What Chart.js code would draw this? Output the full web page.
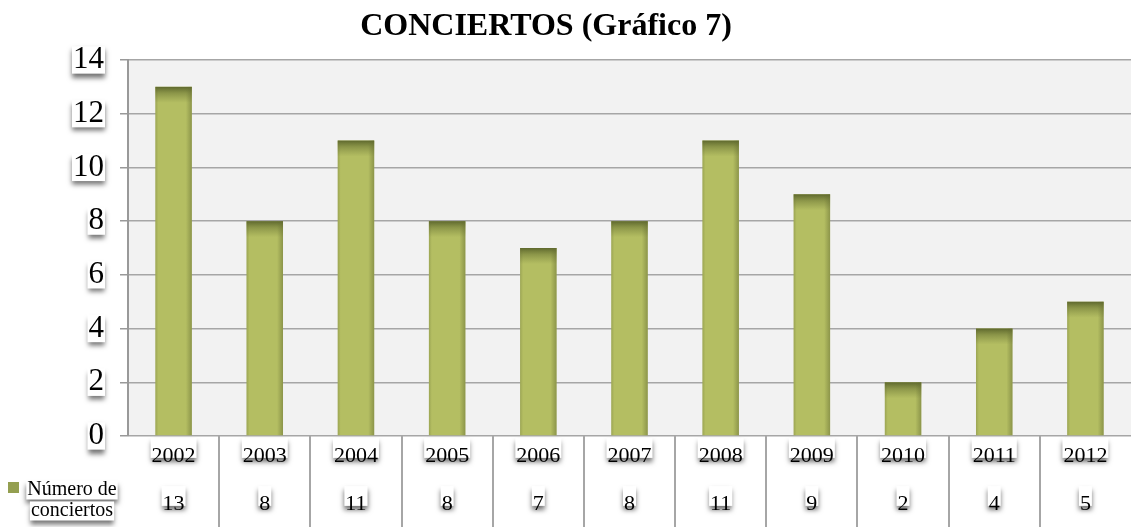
<!DOCTYPE html>
<html>
<head>
<meta charset="utf-8">
<title>Conciertos</title>
<script src="https://cdn.jsdelivr.net/npm/chart.js@4.4.1/dist/chart.umd.min.js"></script>
<style>
  html, body { margin: 0; padding: 0; background: #fff; }
  #wrap { width: 1131px; height: 527px; }
</style>
</head>
<body>
<div id="wrap"><canvas id="conciertosChart"></canvas></div>
<script>
'use strict';

// ── data ──────────────────────────────────────────────
const YEARS      = ['2002', '2003', '2004', '2005', '2006', '2007', '2008', '2009', '2010', '2011', '2012'];
const CONCIERTOS = [13, 8, 11, 8, 7, 8, 11, 9, 2, 4, 5];
const Y_TICKS    = { min: 0, max: 14, step: 2 };
const TITLE      = 'CONCIERTOS (Gráfico 7)';
const SERIES     = ['Número de', 'conciertos'];

// ── look ──────────────────────────────────────────────
const SERIF   = "'Liberation Serif', 'Times New Roman', serif";
const BAR     = '#b4be62';
const GRID    = '#a6a6a6';
const PLOT_BG = '#f2f2f2';
const X_FONT  = 22, X_LINE = 24, X_PAD = 0;
const Y_FONT  = 31, Y_TICK_LEN = 8, Y_PAD = 16;

// white label box with a soft drop shadow underneath
function shadowBox(ctx, cx, cy, w, h) {
    ctx.save();
    ctx.shadowColor = 'rgba(0,0,0,0.55)';
    ctx.shadowBlur = 5;
    ctx.shadowOffsetX = 0;
    ctx.shadowOffsetY = 4;
    ctx.fillStyle = '#fff';
    ctx.fillRect(cx - w / 2, cy - h / 2, w, h);
    ctx.restore();
}

const decor = {
    id: 'decor',
    beforeDraw(chart) {
        const { ctx, chartArea: a, scales: { x, y } } = chart;
        ctx.save();
        ctx.fillStyle = PLOT_BG;
        ctx.fillRect(a.left, a.top, a.right - a.left, a.bottom - a.top);

        // boxes behind y tick labels
        ctx.font = Y_FONT + 'px ' + SERIF;
        const yRight = a.left - Y_TICK_LEN - Y_PAD;
        y.ticks.forEach((t, i) => {
            const w = ctx.measureText(String(t.label)).width + 2;
            shadowBox(ctx, yRight - w / 2 + 1, y.getPixelForTick(i), w, Y_FONT * 0.88);
        });

        // boxes behind the data table texts
        ctx.font = X_FONT + 'px ' + SERIF;
        const row1 = x.top + X_PAD + X_LINE / 2;
        const row3 = row1 + 2 * X_LINE;
        YEARS.forEach((yr, i) => {
            const px = x.getPixelForTick(i);
            shadowBox(ctx, px, row1, ctx.measureText(yr).width + 2, X_FONT * 0.9);
            shadowBox(ctx, px, row3, ctx.measureText(String(CONCIERTOS[i])).width + 2, X_FONT * 0.9);
        });
        ctx.restore();
    },
    afterDatasetsDraw(chart) {
        const { ctx } = chart;
        ctx.save();
        chart.getDatasetMeta(0).data.forEach(bar => {
            const { x, y, base, width } = bar.getProps(['x', 'y', 'base', 'width'], true);
            const left = x - width / 2, h = base - y;
            // dark band on the top face
            const band = Math.min(16, h);
            const g = ctx.createLinearGradient(0, y, 0, y + band);
            g.addColorStop(0, 'rgba(85,95,40,0.9)');
            g.addColorStop(0.4, 'rgba(100,110,48,0.5)');
            g.addColorStop(1, 'rgba(110,120,55,0)');
            ctx.fillStyle = g;
            ctx.fillRect(left, y, width, band);
            // shading on the right edge
            const r = ctx.createLinearGradient(left + width - 6, 0, left + width, 0);
            r.addColorStop(0, 'rgba(100,108,50,0)');
            r.addColorStop(1, 'rgba(100,108,50,0.5)');
            ctx.fillStyle = r;
            ctx.fillRect(left + width - 6, y, 6, h);
            // thin shading on the left edge
            const l = ctx.createLinearGradient(left, 0, left + 3, 0);
            l.addColorStop(0, 'rgba(100,108,50,0.3)');
            l.addColorStop(1, 'rgba(100,108,50,0)');
            ctx.fillStyle = l;
            ctx.fillRect(left, y, 3, h);
        });
        ctx.restore();
    },
    afterDraw(chart) {
        const { ctx, chartArea: a, scales: { x } } = chart;
        ctx.save();

        // table separators between categories
        ctx.strokeStyle = GRID;
        ctx.lineWidth = 2;
        for (let i = 1; i < YEARS.length; i++) {
            const px = Math.round((x.getPixelForTick(i - 1) + x.getPixelForTick(i)) / 2);
            ctx.beginPath();
            ctx.moveTo(px, a.bottom);
            ctx.lineTo(px, chart.height);
            ctx.stroke();
        }

        // title
        ctx.fillStyle = '#000';
        ctx.font = 'bold 32px ' + SERIF;
        ctx.textAlign = 'center';
        ctx.textBaseline = 'alphabetic';
        ctx.fillText(TITLE, 546, 35);

        // legend key in the table
        ctx.font = '20px ' + SERIF;
        ctx.textBaseline = 'middle';
        const lines = [490, 511];
        SERIES.forEach((s, i) => shadowBox(ctx, 72, lines[i], ctx.measureText(s).width + 2, 19));
        ctx.fillStyle = '#000';
        SERIES.forEach((s, i) => ctx.fillText(s, 72, lines[i]));
        ctx.fillStyle = '#949f50';
        ctx.fillRect(8, 482, 11, 11);
        ctx.restore();
    }
};

new Chart(document.getElementById('conciertosChart'), {
    type: 'bar',
    data: {
        labels: YEARS,
        datasets: [{
            label: SERIES.join(' '),
            data: CONCIERTOS,
            backgroundColor: BAR,
            borderWidth: 0,
            barPercentage: 0.8,
            categoryPercentage: 0.5,
        }]
    },
    options: {
        responsive: true,
        maintainAspectRatio: false,
        animation: false,
        layout: { padding: { top: 60, left: 0, right: 0, bottom: 0 } },
        plugins: { legend: { display: false }, title: { display: false }, tooltip: { enabled: false } },
        scales: {
            x: {
                grid: { display: false },
                border: { display: false },
                ticks: {
                    color: '#000',
                    padding: X_PAD,
                    maxRotation: 0,
                    autoSkip: false,
                    font: { family: SERIF, size: X_FONT, lineHeight: X_LINE / X_FONT },
                    callback: (v, i) => [YEARS[i], '', String(CONCIERTOS[i])]
                },
                afterFit: s => { s.height = 91; }
            },
            y: {
                min: Y_TICKS.min,
                max: Y_TICKS.max,
                grid: { color: GRID, lineWidth: 1.5, tickLength: Y_TICK_LEN, tickColor: '#999' },
                border: { color: '#999', width: 2 },
                ticks: {
                    stepSize: Y_TICKS.step,
                    color: '#000',
                    padding: Y_PAD,
                    font: { family: SERIF, size: Y_FONT }
                },
                afterFit: s => { s.width = 128; }
            }
        }
    },
    plugins: [decor]
});
</script>
</body>
</html>
